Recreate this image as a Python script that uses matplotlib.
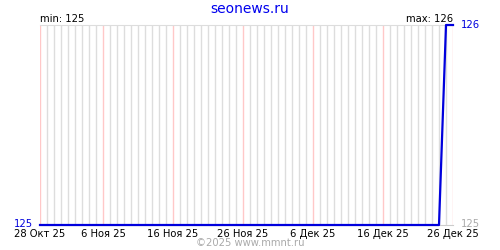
import matplotlib
matplotlib.use("Agg")
import matplotlib.pyplot as plt
import datetime as dt

# data
start = dt.date(2025, 10, 28)
days = [start + dt.timedelta(days=i) for i in range(60)]
values = [125] * 58 + [126, 126]
tick_days = [0, 9, 19, 29, 39, 49, 59]
tick_labels = ["28 Окт 25", "6 Ноя 25", "16 Ноя 25", "26 Ноя 25",
               "6 Дек 25", "16 Дек 25", "26 Дек 25"]

plt.rcParams['font.family'] = ['DejaVu Sans']
fig = plt.figure(figsize=(5, 2.5), dpi=100)
ax = fig.add_axes([0.08, 0.1, 0.826, 0.8])

x = list(range(len(days)))
for i in x:
    col = "#ffc8c8" if i in tick_days else "#dddddd"
    ax.axvline(i, color=col, lw=1, zorder=1)

ax.plot(x, values, color="#0000dd", lw=1.6, zorder=3, clip_on=False)

ax.set_xlim(0, len(days) - 1)
ax.set_ylim(min(values), max(values))
ax.set_xticks(tick_days)
ax.set_xticklabels(tick_labels, fontsize=7.2)
ax.tick_params(axis="x", length=0, pad=3)
ax.set_yticks([])
for s in ["left", "right"]:
    ax.spines[s].set_visible(False)
ax.spines["top"].set_color("#dddddd")
ax.spines["bottom"].set_color("#cccccc")

fig.text(0.5, 0.965, "seonews.ru", color="#0000ee", fontsize=10,
         ha="center", va="center")
fig.text(0.08, 0.925, "min: %d" % min(values), fontsize=7.2,
         ha="left", va="center")
fig.text(0.906, 0.925, "max: %d" % max(values), fontsize=7.2,
         ha="right", va="center")
fig.text(0.066, 0.104, "%d" % min(values), color="#0000dd", fontsize=7.2,
         ha="right", va="center")
fig.text(0.922, 0.9, "%d" % max(values), color="#0000dd", fontsize=7.2,
         ha="left", va="center")
fig.text(0.922, 0.104, "%d" % min(values), color="#aaaaaa", fontsize=7.2,
         ha="left", va="center")
fig.text(0.5, 0.028, "©2025 www.mmnt.ru", color="#aaaaaa", fontsize=7.2,
         ha="center", va="center")

plt.savefig("out.png", dpi=100)
